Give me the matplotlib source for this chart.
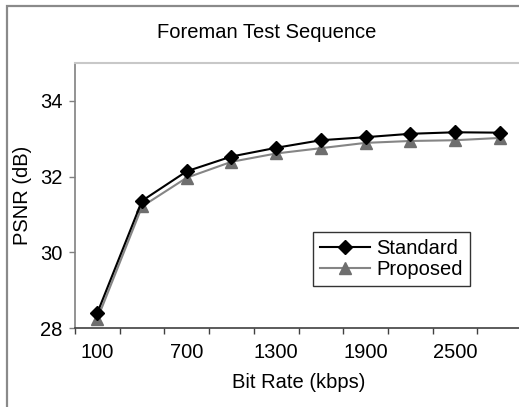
import matplotlib
matplotlib.use("Agg")
import matplotlib.pyplot as plt
from matplotlib.patches import Rectangle
from matplotlib.ticker import FixedLocator

plt.rcParams['font.family'] = ['Liberation Sans', 'DejaVu Sans']

bit_rates = [100, 400, 700, 1000, 1300, 1600, 1900, 2200, 2500, 2800]
standard = [28.40, 31.36, 32.14, 32.53, 32.76, 32.96, 33.04, 33.13, 33.17, 33.16]
proposed = [28.24, 31.21, 31.97, 32.39, 32.61, 32.75, 32.89, 32.94, 32.96, 33.02]
shown_labels = [100, 700, 1300, 1900, 2500]
y_ticks = [28, 30, 32, 34]

FS = 14.5
W, H = 519, 407
fig = plt.figure(figsize=(W / 100, H / 100), dpi=100)
fig.patch.set_facecolor('white')

# outer chart border (cropped on right/bottom)
fig.add_artist(Rectangle((7 / W, -0.05), 1.2, 1 - 6 / H + 0.05, transform=fig.transFigure,
                         fill=False, edgecolor='#8a8a8a', linewidth=1.6))

left, right, bottom, top = 75 / W, 522 / W, 1 - 328 / H, 1 - 63 / H
ax = fig.add_axes([left, bottom, right - left, top - bottom])

x = list(range(len(bit_rates)))
ax.plot(x, standard, color='black', linewidth=1.5, marker='D', markersize=7,
        markerfacecolor='black', markeredgecolor='black', label='Standard', zorder=3)
ax.plot(x, proposed, color='#858585', linewidth=1.5, marker='^', markersize=9,
        markerfacecolor='#6e6e6e', markeredgecolor='#6e6e6e', label='Proposed', zorder=2)

ax.set_xlim(-0.5, len(bit_rates) - 0.5)
ax.set_ylim(28, 35)

pos = [bit_rates.index(v) for v in shown_labels]
ax.xaxis.set_major_locator(FixedLocator(pos))
ax.set_xticklabels([str(v) for v in shown_labels])
ax.xaxis.set_minor_locator(FixedLocator([i - 0.5 for i in range(len(bit_rates) + 1)]))
ax.tick_params(axis='x', which='major', length=0, pad=11, labelsize=FS)
ax.tick_params(axis='x', which='minor', length=4, width=1, color='#404040', direction='out')
ax.set_yticks(y_ticks)
ax.tick_params(axis='y', length=4, width=1, color='#808080', direction='out', pad=5, labelsize=FS)

ax.spines['left'].set_color('#808080')
ax.spines['left'].set_linewidth(1.2)
ax.spines['bottom'].set_color('#404040')
ax.spines['bottom'].set_linewidth(1.2)
ax.spines['top'].set_color('#c8c8c8')
ax.spines['top'].set_linewidth(1.5)
ax.spines['right'].set_visible(False)

ax.set_xlabel('Bit Rate (kbps)', fontsize=FS, labelpad=8)
ax.set_ylabel('PSNR (dB)', fontsize=FS, labelpad=6)
fig.text(267 / W, 1 - 32 / H, 'Foreman Test Sequence', ha='center', va='center', fontsize=FS)

leg = ax.legend(loc='upper left', bbox_to_anchor=((313 - 75) / 447, (328 - 232) / 265),
                frameon=True, fancybox=False, fontsize=FS, handlelength=2.5,
                borderpad=0.35, labelspacing=0.1, handletextpad=0.3, borderaxespad=0)
leg.get_frame().set_edgecolor('black')
leg.get_frame().set_linewidth(1.0)

fig.savefig('out.png', dpi=100)
